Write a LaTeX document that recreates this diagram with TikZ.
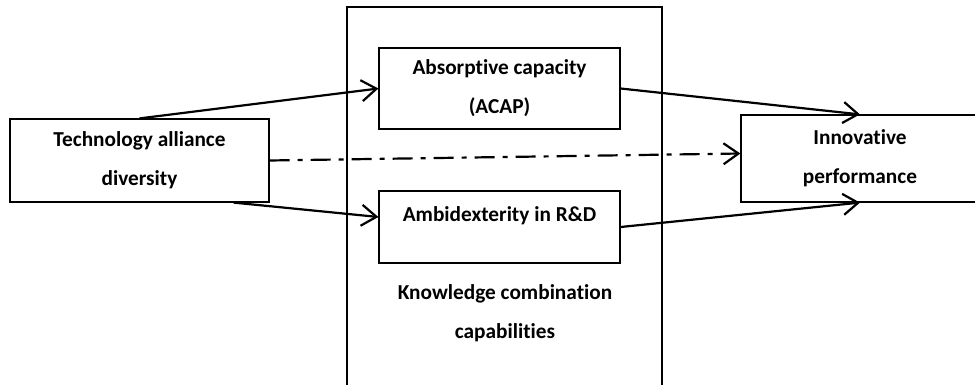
\documentclass[tikz,border=0pt]{standalone}
\usepackage{fontspec}
\setmainfont[Ligatures={NoCommon}]{Carlito}
\usetikzlibrary{arrows.meta}
\begin{document}
\begin{tikzpicture}[x=1pt,y=-1pt,
    box/.style={draw=black,line width=1.2pt,align=center,inner sep=0pt,
      font=\bfseries\fontsize{21.3}{39}\selectfont},
    lbl/.style={align=center,inner sep=0pt,font=\bfseries\fontsize{21.3}{39}\selectfont},
    link/.style={line width=2.2pt,-{Straight Barb[length=15pt,width=21pt,line width=2.2pt]}}]
    \useasboundingbox (0,0) rectangle (975,385);

    \node[draw=black,line width=2pt,minimum width=315,minimum height=400] (frame) at (504.5, 207) {};

    \node[box,minimum width=259,minimum height=83] (tad) at (139.5, 160.5) {Technology alliance\\diversity};
    \node[box,minimum width=241,minimum height=81] (acap) at (499.5, 88.5) {Absorptive capacity\\(ACAP)};
    \node[box,minimum width=241,minimum height=72,text depth=25pt] (amb) at (499.5, 227) {Ambidexterity in R\&D};
    \node[box,minimum width=238,minimum height=87] (inn) at (860, 158.5) {Innovative\\performance};
    \node[lbl] (kcc) at (505, 313) {Knowledge combination\\capabilities};

    \draw[link] (tad.north) -- (acap.west);
    \draw[link] ([xshift=-36pt]tad.south east) -- ([yshift=10pt]amb.west);
    \draw[link,dash pattern=on 20pt off 8pt on 5pt off 8pt] (tad.east) -- ([yshift=5pt]inn.west);
    \draw[link] (acap.east) -- (inn.north);
    \draw[link] (amb.east) -- (inn.south);
\end{tikzpicture}
\end{document}
